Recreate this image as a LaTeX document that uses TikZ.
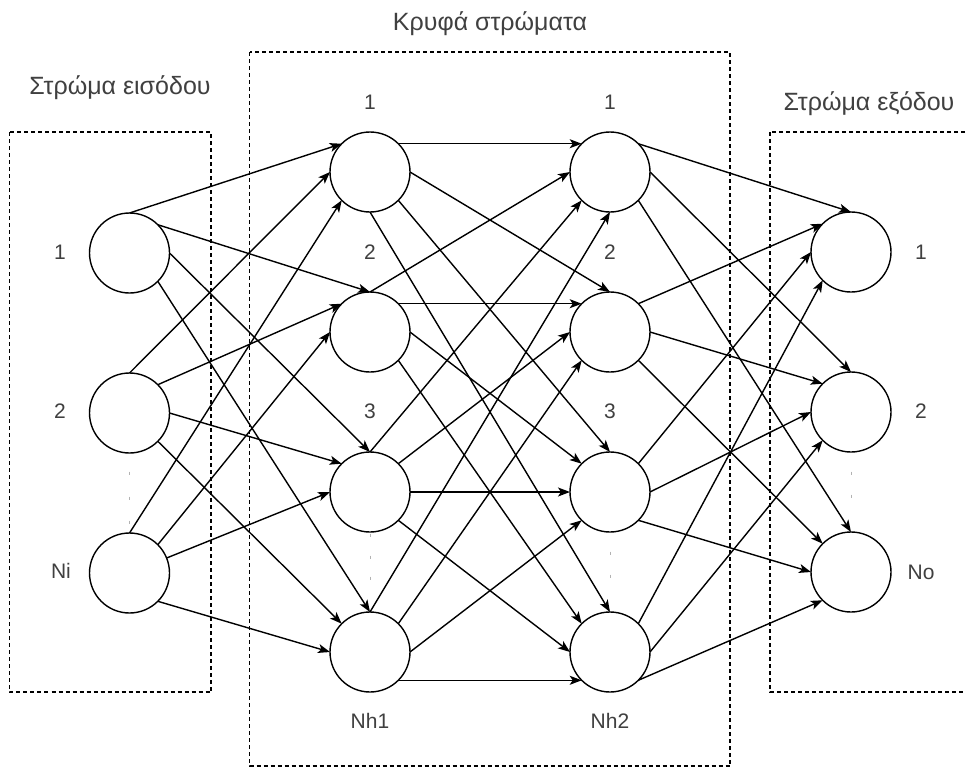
\documentclass[tikz,border=0pt]{standalone}
\usepackage{fontspec}
\setmainfont{Liberation Sans}
\usetikzlibrary{arrows.meta}
\definecolor{txt}{HTML}{404040}
\tikzset{
  neuron/.style={circle, draw=black, line width=1.4pt, minimum size=80pt, inner sep=0pt, outer sep=0pt, fill=white},
  layerbox/.style={draw=black, line width=1.2pt, dash pattern=on 4pt off 3pt},
  lbl/.style={text=txt, font=\fontsize{21}{24}\selectfont, inner sep=0pt},
  ttl/.style={text=txt, font=\fontsize{25}{28}\selectfont, inner sep=0pt},
  conn/.style={draw=black, line width=1.4pt, -{Stealth[length=12pt,width=9pt,inset=3pt]}},
  dotmark/.style={draw=gray!60, line width=1pt}
}
\begin{document}
\begin{tikzpicture}[x=1pt,y=-1pt]
\clip (0,0) rectangle (966,771);
\fill[white] (0,0) rectangle (966,771);
% layer boxes
\draw[layerbox] (9.5,132) rectangle (211,692);
\draw[layerbox] (249.5,52) rectangle (730,766);
\draw[layerbox] (770,132) rectangle (990,692);
% titles
\node[ttl] (t1) at (120,88) {Στρώμα εισόδου};
\node[ttl] (t2) at (490,24) {Κρυφά στρώματα};
\node[ttl] (t3) at (869,104) {Στρώμα εξόδου};
% neurons
\node[neuron] (i1) at (129.5,253) {};
\node[neuron] (i2) at (129.5,413) {};
\node[neuron] (i3) at (129.5,573) {};
\node[neuron] (a1) at (370,172) {};
\node[neuron] (a2) at (370,332) {};
\node[neuron] (a3) at (370,492) {};
\node[neuron] (a4) at (370,652) {};
\node[neuron] (b1) at (610,172) {};
\node[neuron] (b2) at (610,332) {};
\node[neuron] (b3) at (610,492) {};
\node[neuron] (b4) at (610,652) {};
\node[neuron] (o1) at (851,252) {};
\node[neuron] (o2) at (851,412) {};
\node[neuron] (o3) at (851,572) {};
% labels
\node[lbl] (li1) at (60,252) {1};
\node[lbl] (li2) at (60,411) {2};
\node[lbl] (li3) at (61,571) {Ni};
\node[lbl] (la1) at (370,102) {1};
\node[lbl] (la2) at (370,252) {2};
\node[lbl] (la3) at (370,411) {3};
\node[lbl] (la4) at (370,721) {Nh1};
\node[lbl] (lb1) at (610,102) {1};
\node[lbl] (lb2) at (610,252) {2};
\node[lbl] (lb3) at (610,411) {3};
\node[lbl] (lb4) at (610,721) {Nh2};
\node[lbl] (lo1) at (921,252) {1};
\node[lbl] (lo2) at (921,411) {2};
\node[lbl] (lo3) at (921,572) {No};
% dots
\foreach \y in {473,498,522} \draw[dotmark] (129.5,\y-1.5) -- (129.5,\y+1.5);
\foreach \y in {535,557,578} \draw[dotmark] (370,\y-1.5) -- (370,\y+1.5);
\foreach \y in {553,576} \draw[dotmark] (610,\y-1.5) -- (610,\y+1.5);
\foreach \y in {473,496} \draw[dotmark] (851,\y-1.5) -- (851,\y+1.5);
% input -> hidden 1
\draw[conn] (i1.90) -- (a1.135);
\draw[conn] (i2.90) -- (a1.180);
\draw[conn] (i3.90) -- (a1.225);
\draw[conn] (i1.45) -- (a2.90);
\draw[conn] (i2.45) -- (a2.135);
\draw[conn] (i3.45) -- (a2.180);
\draw[conn] (i1.0) -- (a3.90);
\draw[conn] (i2.0) -- (a3.135);
\draw[conn] (i3.22) -- (a3.180);
\draw[conn] (i1.-45) -- (a4.90);
\draw[conn] (i2.-45) -- (a4.135);
\draw[conn] (i3.-45) -- (a4.180);
% hidden 1 -> hidden 2
\draw[conn] (a1.45) -- (b1.135);
\draw[conn] (a2.90) -- (b1.180);
\draw[conn] (a3.90) -- (b1.225);
\draw[conn] (a4.90) -- (b1.270);
\draw[conn] (a1.0) -- (b2.90);
\draw[conn] (a2.45) -- (b2.135);
\draw[conn] (a3.45) -- (b2.180);
\draw[conn] (a4.45) -- (b2.225);
\draw[conn] (a1.-45) -- (b3.90);
\draw[conn] (a2.0) -- (b3.135);
\draw[conn] (a3.0) -- (b3.180);
\draw[conn] (a4.0) -- (b3.225);
\draw[conn] (a1.-90) -- (b4.90);
\draw[conn] (a2.-45) -- (b4.135);
\draw[conn] (a3.-45) -- (b4.180);
\draw[conn] (a4.-45) -- (b4.225);
% hidden 2 -> output
\draw[conn] (b1.45) -- (o1.90);
\draw[conn] (b2.45) -- (o1.135);
\draw[conn] (b3.45) -- (o1.180);
\draw[conn] (b4.45) -- (o1.225);
\draw[conn] (b1.0) -- (o2.90);
\draw[conn] (b2.0) -- (o2.135);
\draw[conn] (b3.0) -- (o2.180);
\draw[conn] (b4.0) -- (o2.225);
\draw[conn] (b1.-45) -- (o3.90);
\draw[conn] (b2.-45) -- (o3.135);
\draw[conn] (b3.-45) -- (o3.180);
\draw[conn] (b4.-45) -- (o3.225);
\end{tikzpicture}
\end{document}
